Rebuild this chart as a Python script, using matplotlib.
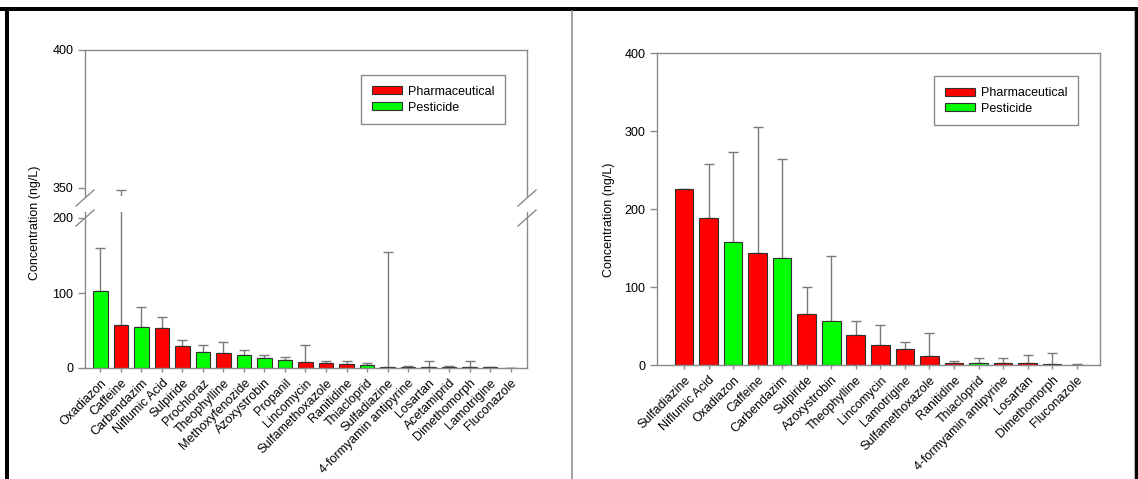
import numpy as np
import matplotlib.pyplot as plt
from matplotlib.patches import Patch
from matplotlib.lines import Line2D

plt.rcParams['font.family'] = ['Liberation Sans', 'DejaVu Sans']

# left panel
left_names = ['Oxadiazon', 'Caffeine', 'Carbendazim', 'Niflumic Acid', 'Sulpiride', 'Prochloraz',
              'Theophylline', 'Methoxyfenozide', 'Azoxystrobin', 'Propanil', 'Lincomycin',
              'Sulfamethoxazole', 'Ranitidine', 'Thiacloprid', 'Sulfadiazine',
              '4-formyamin antipyrine', 'Losartan', 'Acetamiprid', 'Dimethomorph',
              'Lamotrigine', 'Fluconazole']
left_mean = [103, 58, 55, 54, 29, 21, 20, 18, 13, 11, 8, 7, 6, 4, 2, 2, 2, 2, 2, 1, 0]
left_sd = [57, 291, 26, 14, 8, 10, 15, 6, 5, 4, 23, 3, 3, 3, 153, 0.5, 7, 1, 7, 0.5, 0]
left_type = ['G', 'P', 'G', 'P', 'P', 'G', 'P', 'G', 'G', 'G', 'P', 'P', 'P', 'G', 'P',
             'P', 'P', 'G', 'G', 'P', 'P']

# right panel
right_names = ['Sulfadiazine', 'Niflumic Acid', 'Oxadiazon', 'Caffeine', 'Carbendazim',
               'Sulpiride', 'Azoxystrobin', 'Theophylline', 'Lincomycin', 'Lamotrigine',
               'Sulfamethoxazole', 'Ranitidine', 'Thiacloprid', '4-formyamin antipyrine',
               'Losartan', 'Dimethomorph', 'Fluconazole']
right_mean = [226, 188, 158, 144, 137, 65, 56, 38, 26, 20, 12, 3, 2, 2, 2, 1, 0]
right_sd = [0, 70, 115, 161, 127, 35, 84, 18, 25, 10, 29, 2, 7, 7, 11, 14, 1]
right_type = ['P', 'P', 'G', 'P', 'G', 'P', 'G', 'P', 'P', 'P', 'P', 'P', 'G', 'P',
              'P', 'G', 'P']

colors = {'P': '#ff0000', 'G': '#00ff00'}
axis_gray = '#8a8a8a'
err_gray = '#7a7a7a'
W, H = 1138, 479


def px(x0, y0, x1, y1):
    # pixel box -> figure fraction [left, bottom, width, height]
    return [x0 / W, 1 - y1 / H, (x1 - x0) / W, (y1 - y0) / H]


def style(ax):
    for s in ax.spines.values():
        s.set_color(axis_gray)
        s.set_linewidth(1.0)
    ax.tick_params(axis='both', colors=axis_gray, labelcolor='black', labelsize=9,
                   width=1.0, direction='out')
    ax.tick_params(axis='y', length=5)
    ax.tick_params(axis='x', length=3)


def draw_bars(ax, mean, sd, types, width):
    x = np.arange(len(mean))
    ax.bar(x, mean, width=width, color=[colors[t] for t in types],
           edgecolor='#303030', linewidth=0.8, zorder=2)
    ax.errorbar(x, mean, yerr=[np.zeros(len(sd)), sd], fmt='none', ecolor=err_gray,
                elinewidth=1.0, capsize=3.5, capthick=1.0, zorder=1)
    return x


def add_legend(ax, bx, by):
    handles = [Patch(facecolor=colors['P'], edgecolor='#303030', linewidth=0.8, label='Pharmaceutical'),
               Patch(facecolor=colors['G'], edgecolor='#303030', linewidth=0.8, label='Pesticide')]
    leg = ax.legend(handles=handles, loc='upper right', bbox_to_anchor=(bx, by), fontsize=9,
                    fancybox=False, framealpha=1, edgecolor=axis_gray, handlelength=2.4,
                    handleheight=0.6, labelspacing=0.3, borderpad=0.85, handletextpad=0.5)
    leg.get_frame().set_linewidth(1.0)


fig = plt.figure(figsize=(W / 100, H / 100), dpi=100)

# left panel: broken y axis (0-208 below, 347-400 above)
ax_top = fig.add_axes(px(85, 50, 527, 196))
ax_bot = fig.add_axes(px(85, 212, 527, 368))
for ax in (ax_top, ax_bot):
    style(ax)
    x = draw_bars(ax, left_mean, left_sd, left_type, 0.72)
    ax.set_xlim(-0.75, 20.8)
ax_top.set_ylim(347, 400)
ax_top.set_yticks([350, 400])
ax_top.spines['bottom'].set_visible(False)
ax_top.tick_params(axis='x', bottom=False, labelbottom=False)
ax_bot.set_ylim(0, 208)
ax_bot.set_yticks([0, 100, 200])
ax_bot.spines['top'].set_visible(False)
ax_bot.set_xticks(x)
ax_bot.set_xticklabels(left_names, rotation=45, ha='right', rotation_mode='anchor')
add_legend(ax_top, 0.965, 0.87)

# break marks on both spines
for xs in (85, 527):
    for yc in (198, 218):
        fig.add_artist(Line2D([(xs - 9) / W, (xs + 9) / W], [1 - (yc + 8) / H, 1 - (yc - 8) / H],
                              color=axis_gray, linewidth=1.0))

fig.text(35 / W, 1 - 223 / H, 'Concentration (ng/L)', rotation=90, ha='center', va='center',
         fontsize=9)

# right panel
ax_r = fig.add_axes(px(657, 53, 1100, 365))
style(ax_r)
xr = draw_bars(ax_r, right_mean, right_sd, right_type, 0.76)
ax_r.set_xlim(-1.1, 16.95)
ax_r.set_ylim(0, 400)
ax_r.set_yticks([0, 100, 200, 300, 400])
ax_r.set_xticks(xr)
ax_r.set_xticklabels(right_names, rotation=45, ha='right', rotation_mode='anchor')
add_legend(ax_r, 0.965, 0.945)
fig.text(609 / W, 1 - 220 / H, 'Concentration (ng/L)', rotation=90, ha='center', va='center',
         fontsize=9)

# frame around the two panels
fig.add_artist(plt.Rectangle((0, 1 - 11 / H), 1, 4 / H, transform=fig.transFigure,
                             facecolor='black', edgecolor='none'))
fig.add_artist(plt.Rectangle((5 / W, 0), 4 / W, 1 - 7 / H, transform=fig.transFigure,
                             facecolor='black', edgecolor='none'))
fig.add_artist(plt.Rectangle((1135 / W, 0), 3 / W, 1 - 7 / H, transform=fig.transFigure,
                             facecolor='black', edgecolor='none'))
fig.add_artist(Line2D([571.5 / W, 571.5 / W], [0, 1 - 11 / H], color='#909090', linewidth=1.2))
fig.add_artist(Line2D([1134 / W, 1134 / W], [0, 1 - 11 / H], color='#b0b0b0', linewidth=0.8))

fig.savefig('out.png', dpi=100)
